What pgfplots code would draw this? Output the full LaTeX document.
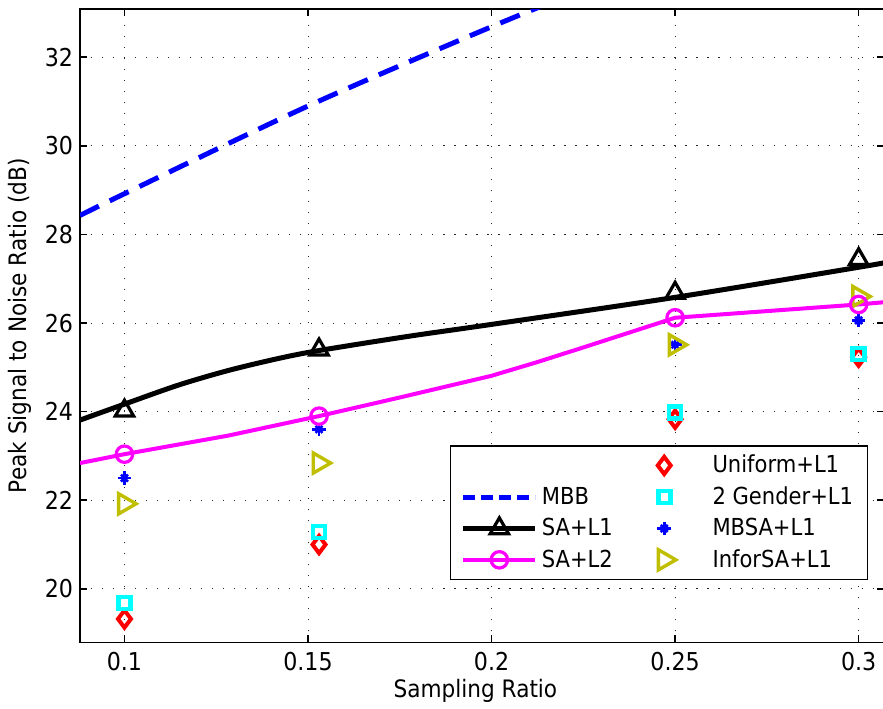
\documentclass[border=0pt]{standalone}
\usepackage{fontspec}
\setmainfont{DejaVu Sans}[FakeStretch=0.9]
\usepackage{pgfplots}
\pgfplotsset{compat=1.18}
\definecolor{olivey}{rgb}{0.75,0.75,0}
\definecolor{mcyan}{rgb}{0,1,1}
\definecolor{mmag}{rgb}{1,0,1}
\definecolor{mred}{rgb}{1,0,0}
\definecolor{mblue}{rgb}{0,0,1}
\pgfplotsset{
  wideimg/.style={legend image code/.code={\draw[mark repeat=2,mark phase=2,##1] plot coordinates {(0pt,0pt) (18pt,0pt) (36pt,0pt)};}},
  markimg/.style={legend image code/.code={\path (0pt,0pt) (39.5pt,0pt); \draw[##1] plot[only marks] coordinates {(18pt,0pt)};}},
  starimg/.style={legend image code/.code={\path (0pt,0pt) (39.5pt,0pt);
     \draw[##1] plot[only marks, mark=+, mark size=3.4pt] coordinates {(18pt,0pt)};
     \draw[##1] plot[only marks, mark=x, mark size=2.5pt] coordinates {(18pt,0pt)};}},
}
\begin{document}
\begin{tikzpicture}
\begin{axis}[
  name=ax,
  scale only axis,
  width=401.5pt, height=316.5pt,
  xmin=0.0879, xmax=0.3068,
  ymin=18.79, ymax=33.09,
  xtick={0.1,0.15,0.2,0.25,0.3},
  xticklabels={0.1,0.15,0.2,0.25,0.3},
  ytick={20,22,24,26,28,30,32},
  yticklabels={20,22,24,26,28,30,32},
  tick align=inside,
  major tick length=3.5pt,
  every tick/.style={black, line width=0.8pt},
  axis line style={line width=0.8pt},
  grid=major,
  major grid style={black!85, line width=0.5pt, dash pattern=on 0.6pt off 4.9pt},
  ticklabel style={font=\fontsize{12.3}{14}\selectfont},
  xticklabel style={yshift=-1.2pt},
  xlabel={Sampling Ratio},
  ylabel={Peak Signal to Noise Ratio (dB)},
  every axis x label/.style={at={(axis description cs:0.492,-0.0758)}, anchor=center, font=\fontsize{12}{14}\selectfont},
  every axis y label/.style={at={(axis description cs:-0.0747,0.5)}, rotate=90, anchor=center, font=\fontsize{12}{14}\selectfont},
  legend style={at={(0.981,0.311)}, anchor=north east, draw=black, line width=0.6pt, fill=white,
    font=\fontsize{11.7}{14}\selectfont, legend columns=2,
    /tikz/every even column/.append style={column sep=5pt}, row sep=1.4pt, inner xsep=5.3pt, inner ysep=2.5pt},
  legend cell align=left,
  wideimg,
]
% scatter series
\addplot[forget plot, only marks, mred, mark=diamond, mark size=4.3pt, mark options={line width=2pt}]
  coordinates {(0.1,19.32) (0.153,21.0) (0.25,23.83) (0.3,25.23)};
\addplot[forget plot, only marks, mcyan, mark=square, mark size=3.0pt, mark options={line width=2.3pt}]
  coordinates {(0.1,19.68) (0.153,21.28) (0.25,23.98) (0.3,25.3)};
\addplot[forget plot, only marks, mblue, mark=+, mark size=3.4pt, mark options={line width=1.3pt}]
  coordinates {(0.1,22.5) (0.153,23.6) (0.25,25.51) (0.3,26.06)};
\addplot[forget plot, only marks, mblue, mark=x, mark size=2.5pt, mark options={line width=1.3pt}]
  coordinates {(0.1,22.5) (0.153,23.6) (0.25,25.51) (0.3,26.06)};
\addplot[forget plot, only marks, olivey, mark=triangle, mark size=5.8pt, mark options={rotate=-90, line width=1.7pt}]
  coordinates {(0.1,21.92) (0.153,22.84) (0.25,25.51) (0.3,26.6)};
% curves
\addplot[forget plot, mblue, line width=2.5pt, dash pattern=on 10.5pt off 6pt, smooth, no marks]
  coordinates {(0.0879,28.43) (0.1,28.92) (0.15,30.9) (0.2,32.69) (0.23,33.7)};
\addplot[forget plot, black, line width=2.5pt, smooth, tension=0.5, no marks]
  coordinates {(0.0879,23.81) (0.1,24.17) (0.1147,24.6) (0.1283,24.93) (0.1419,25.2) (0.153,25.38) (0.1773,25.7) (0.2,25.97) (0.25,26.58) (0.3,27.26) (0.3068,27.36)};
\addplot[forget plot, only marks, black, mark=triangle, mark size=5.3pt, mark options={line width=1.6pt}]
  coordinates {(0.1,24.02) (0.153,25.4) (0.25,26.68) (0.3,27.44)};
\addplot[forget plot, mmag, line width=2pt, line join=round, no marks]
  coordinates {(0.0879,22.84) (0.1,23.04) (0.1283,23.46) (0.153,23.9) (0.175,24.32) (0.2,24.81) (0.2125,25.12) (0.225,25.45) (0.25,26.12) (0.3,26.42) (0.3068,26.47)};
\addplot[forget plot, only marks, mmag, mark=o, mark size=4.1pt, mark options={line width=1.6pt}]
  coordinates {(0.1,23.04) (0.153,23.9) (0.25,26.12) (0.3,26.42)};
% legend
\addlegendimage{empty legend}
\addlegendentry{}
\addlegendimage{markimg, mred, mark=diamond, mark size=4.3pt, mark options={line width=2pt}}
\addlegendentry{Uniform+L1}
\addlegendimage{mblue, line width=2.5pt, dash pattern=on 6pt off 3pt}
\addlegendentry{MBB}
\addlegendimage{markimg, mcyan, mark=square, mark size=3.0pt, mark options={line width=2.3pt}}
\addlegendentry{2 Gender+L1}
\addlegendimage{black, line width=2.5pt, mark=triangle, mark size=5.3pt, mark options={line width=1.6pt}}
\addlegendentry{SA+L1}
\addlegendimage{starimg, mblue, line width=1.3pt}
\addlegendentry{MBSA+L1}
\addlegendimage{mmag, line width=2pt, mark=o, mark size=4.1pt, mark options={line width=1.6pt}}
\addlegendentry{SA+L2}
\addlegendimage{markimg, olivey, mark=triangle, mark size=5.8pt, mark options={rotate=-90, line width=1.7pt}}
\addlegendentry{InforSA+L1}
\end{axis}
\path (ax.south west) ++(-40pt,-33pt) coordinate (bba);
\path (ax.north east) ++(-0.3pt,4.5pt) coordinate (bbb);
\pgfresetboundingbox
\useasboundingbox (bba) rectangle (bbb);
\end{tikzpicture}
\end{document}
